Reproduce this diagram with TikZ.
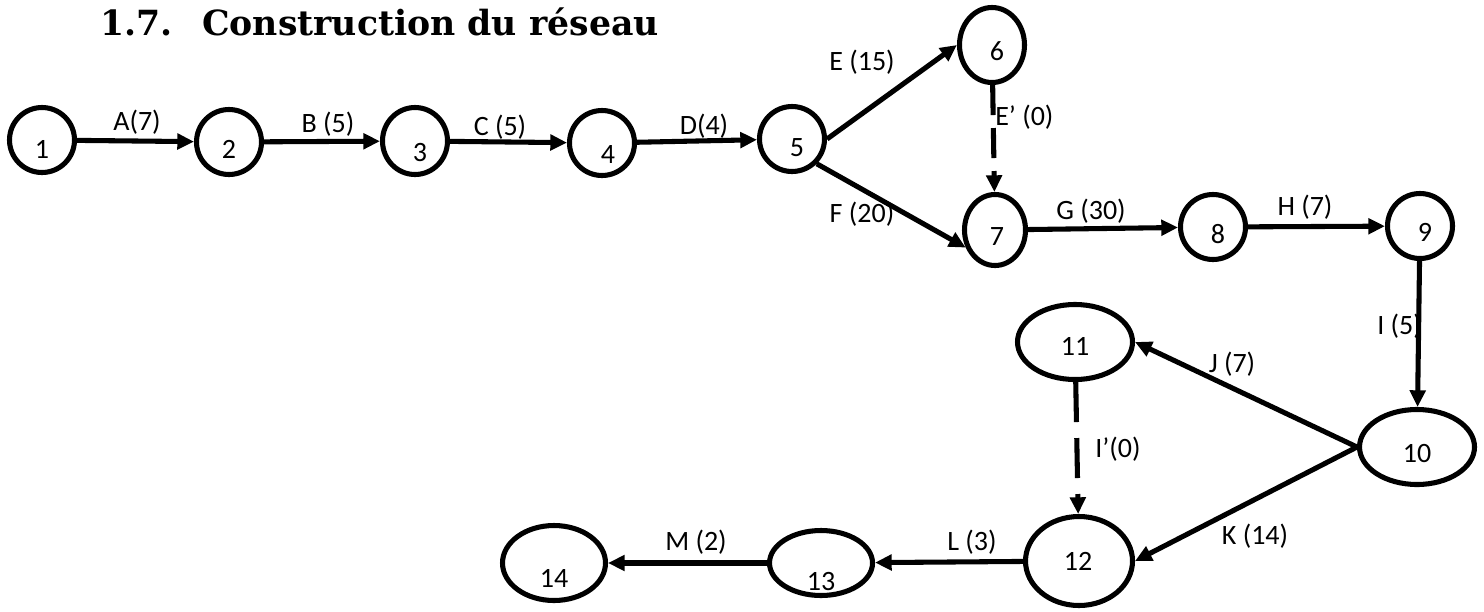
\documentclass[tikz,border=0pt]{standalone}
\usepackage{fontspec}
\setmainfont{Carlito}
\newfontfamily\titlefont{DejaVu Serif}
\usetikzlibrary{shapes.geometric,arrows.meta}
\tikzset{
  ev/.style={draw, ellipse, line width=3.8pt, inner sep=0pt},
  arc/.style={line width=3.8pt, -{Triangle[length=12.5pt,width=11.5pt]}},
  lab/.style={anchor=base, inner sep=0pt, font=\fontsize{21}{25}\selectfont},
  labw/.style={lab, anchor=base west},
  num/.style={anchor=base, inner sep=0pt, font=\fontsize{21}{25}\selectfont},
}
\begin{document}
\begin{tikzpicture}[x=0.75pt, y=-0.75pt]
\useasboundingbox (0,0) rectangle (1484,611);
% title
\node[anchor=base west, inner sep=0pt, font=\titlefont\bfseries\fontsize{26}{31}\selectfont] (title) at (100,35) {1.7.\hspace{0.85em}Construction du réseau};
% events
\node[ev, minimum width=48.75pt, minimum height=48.75pt] (n1) at (42,140) {};
\node[ev, minimum width=48.75pt, minimum height=48.75pt] (n2) at (229,142) {};
\node[ev, minimum width=48.75pt, minimum height=50.25pt] (n3) at (415,141) {};
\node[ev, minimum width=48.75pt, minimum height=48.75pt] (n4) at (602,143) {};
\node[ev, minimum width=48.75pt, minimum height=48.75pt] (n5) at (792,139) {};
\node[ev, minimum width=48.75pt, minimum height=56.25pt] (n6) at (992,45) {};
\node[ev, minimum width=45.75pt, minimum height=53.25pt] (n7) at (995,230) {};
\node[ev, minimum width=48.75pt, minimum height=48.75pt] (n8) at (1213,227) {};
\node[ev, minimum width=48.75pt, minimum height=48.75pt] (n9) at (1420,226) {};
\node[ev, minimum width=86.25pt, minimum height=56.25pt] (n10) at (1417,447) {};
\node[ev, minimum width=86.25pt, minimum height=56.25pt] (n11) at (1075,342) {};
\node[ev, minimum width=80.25pt, minimum height=66.75pt] (n12) at (1079,561) {};
\node[ev, minimum width=77.25pt, minimum height=48.75pt] (n13) at (821,563) {};
\node[ev, minimum width=77.25pt, minimum height=56.25pt] (n14) at (554,563) {};
% numbers
\node[num] (t1) at (42,158) {1};
\node[num] (t2) at (229,158) {2};
\node[num] (t3) at (420,161) {3};
\node[num] (t4) at (608,163) {4};
\node[num] (t5) at (797,156) {5};
\node[num] (t6) at (997,60) {6};
\node[num] (t7) at (997,245) {7};
\node[num] (t8) at (1218,243) {8};
\node[num] (t9) at (1425,241) {9};
\node[num] (t10) at (1417,462) {10};
\node[num] (t11) at (1075,355) {11};
\node[num] (t12) at (1078,570) {12};
\node[num] (t13) at (821,590) {13};
\node[num] (t14) at (554,587) {14};
% activities
\draw[arc] (n1) -- (n2);
\draw[arc] (n2) -- (n3);
\draw[arc] (n3) -- (n4);
\draw[arc] (n4) -- (n5);
\draw[arc] (n5.east) -- (n6.west);
\draw[arc] (n5.south east) -- (n7.211);
\draw[arc, dash pattern=on 22.5pt off 9.75pt] (n6) -- (n7);
\draw[arc] (n7) -- (n8);
\draw[arc] (n8) -- (n9);
\draw[arc] (n9) -- (n10);
\draw[arc] (n10.west) -- (n11.east);
\draw[arc] (n10.west) -- (n12.east);
\draw[arc, dash pattern=on 30pt off 12pt] (n11) -- (n12);
\draw[arc] (n12) -- (n13);
\draw[arc] (n13) -- (n14);
% labels
\node[lab] (la) at (137,130) {A(7)};
\node[lab] (lb) at (328,132) {B (5)};
\node[lab] (lc) at (500,135) {C (5)};
\node[lab] (ld) at (704,134) {D(4)};
\node[lab] (le) at (862,70) {E (15)};
\node[labw] (lep) at (995,125) {E’ (0)};
\node[lab] (lf) at (862,222) {F (20)};
\node[lab] (lg) at (1091,219) {G (30)};
\node[lab] (lh) at (1305,215) {H (7)};
\node[labw] (li) at (1377,334) {I (5)};
\node[lab] (lj) at (1232,372) {J (7)};
\node[labw] (lip) at (1095,457) {I’(0)};
\node[lab] (lk) at (1255,544) {K (14)};
\node[lab] (ll) at (972,550) {L (3)};
\node[lab] (lm) at (696,550) {M (2)};
\end{tikzpicture}
\end{document}
